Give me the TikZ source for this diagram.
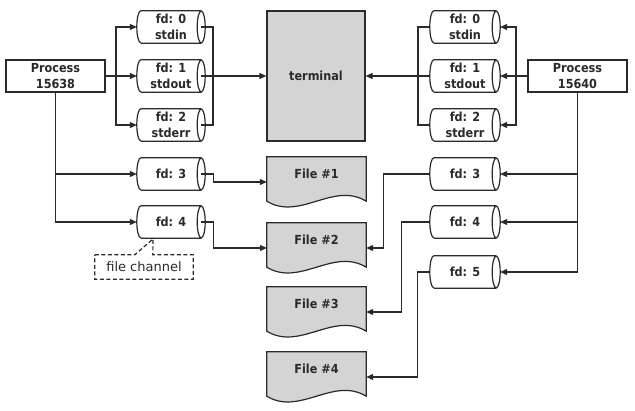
\documentclass[tikz,border=0pt]{standalone}
\usepackage{fontspec}
\setmainfont{DejaVu Sans}
\newfontfamily\condfont{DejaVu Sans Condensed}
\usetikzlibrary{arrows.meta,calc}
\definecolor{linec}{HTML}{2A2A2A}
\definecolor{filegray}{HTML}{D4D4D4}
\newcommand\cylout[1]{%
  \fill[white] ($(#1.north west)+(4,0)$) rectangle ($(#1.south east)+(-4,0)$);
  \fill[white] ($(#1.west)+(4,0)$) ellipse[x radius=4pt, y radius=16pt];
  \draw[line] ($(#1.north west)+(4,0)$) -- ($(#1.north east)+(-4,0)$)
    ($(#1.south west)+(4,0)$) -- ($(#1.south east)+(-4,0)$)
    ($(#1.north west)+(4,0)$) arc[start angle=90, end angle=270, x radius=4pt, y radius=16pt]
    ($(#1.east)+(-4,0)$) ellipse[x radius=4pt, y radius=16pt];}
\newcommand\docout[1]{%
  \draw[line, fill=filegray] (#1.north west) -- (#1.north east) -- ($(#1.south east)+(0,-6)$)
    .. controls +(-33,-20) and +(33,20) .. ($(#1.south west)+(0,-6)$) -- cycle;}
\begin{document}
\begin{tikzpicture}[x=1pt,y=-1pt,
  line/.style={draw=linec, line width=1.2pt},
  arr/.style={line, -{Triangle[length=7pt,width=6pt]}},
  txt/.style={text=linec, font=\condfont\bfseries\fontsize{12.5}{16.5}\selectfont, align=center, inner sep=0pt},
  proc/.style={txt, draw=linec, line width=1.2pt, minimum width=99pt, minimum height=32pt},
  cylnode/.style={txt, minimum height=32pt},
  filenode/.style={txt, minimum width=99pt, minimum height=50pt}]
\useasboundingbox (0,0) rectangle (635,411);

% processes and terminal
\node[proc] (p1) at (55.5,76) {Process\\15638};
\node[proc] (p2) at (577.5,76) {Process\\15640};
\node[proc, fill=filegray, minimum width=98pt, minimum height=130pt] (term) at (316,76) {terminal};

% left channels
\node[cylnode, minimum width=68pt] (l0) at (171,27) {};
\node[cylnode, minimum width=68pt] (l1) at (171,76) {};
\node[cylnode, minimum width=68pt] (l2) at (171,125) {};
\node[cylnode, minimum width=68pt] (l3) at (171,174) {};
\node[cylnode, minimum width=68pt] (l4) at (171,222) {};
% right channels
\node[cylnode, minimum width=70pt] (r0) at (465,27) {};
\node[cylnode, minimum width=70pt] (r1) at (465,76) {};
\node[cylnode, minimum width=70pt] (r2) at (465,125) {};
\node[cylnode, minimum width=70pt] (r3) at (465,174) {};
\node[cylnode, minimum width=70pt] (r4) at (465,222) {};
\node[cylnode, minimum width=70pt] (r5) at (465,272) {};
\foreach \c in {l0,l1,l2,l3,l4,r0,r1,r2,r3,r4,r5} {\cylout{\c}}
\node[txt] at (l0) {fd: 0\\stdin};
\node[txt] at (l1) {fd: 1\\stdout};
\node[txt] at (l2) {fd: 2\\stderr};
\node[txt] at (l3) {fd: 3};
\node[txt] at (l4) {fd: 4};
\node[txt] at (r0) {fd: 0\\stdin};
\node[txt] at (r1) {fd: 1\\stdout};
\node[txt] at (r2) {fd: 2\\stderr};
\node[txt] at (r3) {fd: 3};
\node[txt] at (r4) {fd: 4};
\node[txt] at (r5) {fd: 5};

% files
\node[filenode] (f1) at (316.5,182) {};
\node[filenode] (f2) at (316.5,248) {};
\node[filenode] (f3) at (316.5,312) {};
\node[filenode] (f4) at (316.5,377) {};
\foreach \f in {f1,f2,f3,f4} {\docout{\f}}
\node[txt] at ($(f1)+(0,-8)$) {File \#1};
\node[txt] at ($(f2)+(0,-8)$) {File \#2};
\node[txt] at ($(f3)+(0,-8)$) {File \#3};
\node[txt] at ($(f4)+(0,-8)$) {File \#4};

% file channel callout
\node[txt, font=\fontsize{13}{15}\selectfont, minimum width=98pt, minimum height=24pt] (fc) at (144,267) {file channel};
\coordinate (tip) at (153,239);
\draw[line, dash pattern=on 4pt off 2.5pt] (fc.north west) -- ($(fc.north west)+(40,0)$) -- (tip)
  -- ($(fc.north west)+(58,0)$) -- (fc.north east) -- (fc.south east) -- (fc.south west) -- cycle;

% left connectors
\coordinate (lb) at (116,76);
\coordinate (lr) at (213,76);
\draw[arr] (p1.east) -- (l1.west);
\draw[arr] (lb) |- (l0.west);
\draw[arr] (lb) |- (l2.west);
\draw[line] ($(l0.east)+(-4,0)$) -| (lr) |- ($(l2.east)+(-4,0)$);
\draw[arr] ($(l1.east)+(-4,0)$) -- (term.west);
\draw[arr] (p1.south) |- (l3.west);
\draw[arr] (p1.south) |- (l4.west);
\draw[arr] ($(l3.east)+(-4,0)$) -- ++(12,0) |- (f1.west);
\draw[arr] ($(l4.east)+(-4,0)$) -- ++(12,0) |- (f2.west);

% right connectors
\coordinate (rb) at (516,76);
\coordinate (rl) at (418,76);
\draw[arr] (p2.west) -- (r1.east);
\draw[arr] (rb) |- (r0.east);
\draw[arr] (rb) |- (r2.east);
\draw[line] (r0.west) -| (rl) |- (r2.west);
\draw[arr] (r1.west) -- (term.east);
\draw[arr] (p2.south) |- (r3.east);
\draw[arr] (p2.south) |- (r4.east);
\draw[arr] (p2.south) |- (r5.east);
\draw[arr] (r3.west) -- ++(-46,0) |- (f2.east);
\draw[arr] (r4.west) -- ++(-28,0) |- (f3.east);
\draw[arr] (r5.west) -- ++(-12,0) |- (f4.east);
\end{tikzpicture}
\end{document}
